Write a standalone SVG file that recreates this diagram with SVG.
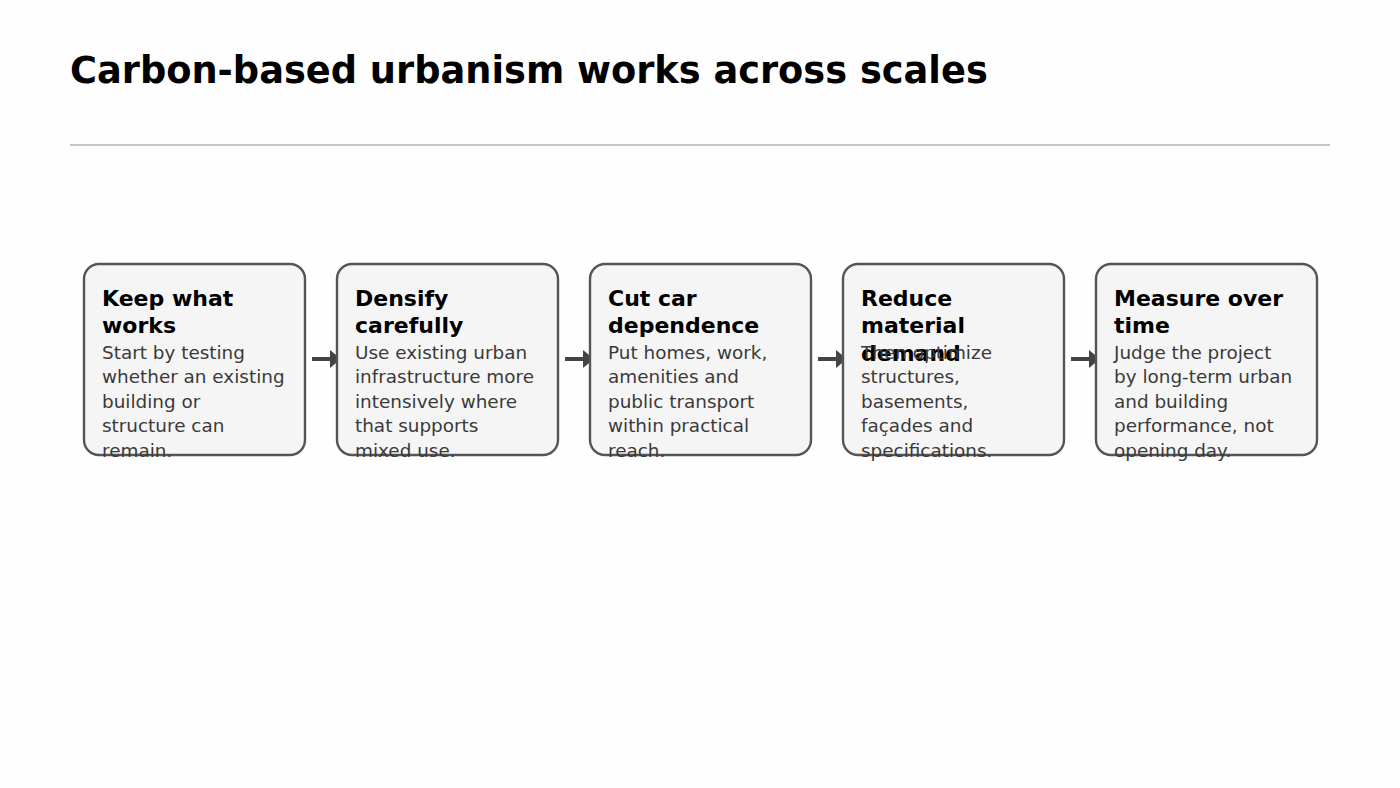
<svg xmlns="http://www.w3.org/2000/svg" width="1400" height="788" viewBox="0 0 1400 788">
<style>
.title{font-family:"DejaVu Sans",sans-serif;font-weight:bold;font-size:36.75px;fill:#000}
.box{fill:#f5f5f5;stroke:#555;stroke-width:2.4}
.nt{font-family:"DejaVu Sans",sans-serif;font-weight:bold;font-size:22px;fill:#000}
.nb{font-family:"DejaVu Sans",sans-serif;font-size:18.4px;fill:#3a3a3a}
.arr{stroke:#444;stroke-width:4;fill:none}
.head{fill:#444}
</style>
<rect width="1400" height="788" fill="#fefefe"/>
<text class="title" x="70" y="83">Carbon-based urbanism works across scales</text>
<line x1="70" y1="145" x2="1330" y2="145" stroke="#b3b3b3" stroke-width="1.5"/>
<g id="connectors">
<line class="arr" x1="312" y1="359" x2="332" y2="359"/><polygon class="head" points="330,350 341,359 330,368"/>
<line class="arr" x1="565" y1="359" x2="585" y2="359"/><polygon class="head" points="583,350 594,359 583,368"/>
<line class="arr" x1="818" y1="359" x2="838" y2="359"/><polygon class="head" points="836,350 847,359 836,368"/>
<line class="arr" x1="1071" y1="359" x2="1091" y2="359"/><polygon class="head" points="1089,350 1100,359 1089,368"/>
</g>
<g id="node1">
<rect class="box" x="84" y="264" width="221" height="191" rx="15"/>
<text class="nt"><tspan x="102" y="305.5">Keep what</tspan><tspan x="102" y="333">works</tspan></text>
<text class="nb"><tspan x="102" y="358.5">Start by testing</tspan><tspan x="102" y="383">whether an existing</tspan><tspan x="102" y="407.5">building or</tspan><tspan x="102" y="432">structure can</tspan><tspan x="102" y="456.5">remain.</tspan></text>
</g>
<g id="node2">
<rect class="box" x="337" y="264" width="221" height="191" rx="15"/>
<text class="nt"><tspan x="355" y="305.5">Densify</tspan><tspan x="355" y="333">carefully</tspan></text>
<text class="nb"><tspan x="355" y="358.5">Use existing urban</tspan><tspan x="355" y="383">infrastructure more</tspan><tspan x="355" y="407.5">intensively where</tspan><tspan x="355" y="432">that supports</tspan><tspan x="355" y="456.5">mixed use.</tspan></text>
</g>
<g id="node3">
<rect class="box" x="590" y="264" width="221" height="191" rx="15"/>
<text class="nt"><tspan x="608" y="305.5">Cut car</tspan><tspan x="608" y="333">dependence</tspan></text>
<text class="nb"><tspan x="608" y="358.5">Put homes, work,</tspan><tspan x="608" y="383">amenities and</tspan><tspan x="608" y="407.5">public transport</tspan><tspan x="608" y="432">within practical</tspan><tspan x="608" y="456.5">reach.</tspan></text>
</g>
<g id="node4">
<rect class="box" x="843" y="264" width="221" height="191" rx="15"/>
<text class="nt"><tspan x="861" y="305.5">Reduce</tspan><tspan x="861" y="333">material</tspan><tspan x="861" y="360.5">demand</tspan></text>
<text class="nb"><tspan x="861" y="358.5">Then optimize</tspan><tspan x="861" y="383">structures,</tspan><tspan x="861" y="407.5">basements,</tspan><tspan x="861" y="432">façades and</tspan><tspan x="861" y="456.5">specifications.</tspan></text>
</g>
<g id="node5">
<rect class="box" x="1096" y="264" width="221" height="191" rx="15"/>
<text class="nt"><tspan x="1114" y="305.5">Measure over</tspan><tspan x="1114" y="333">time</tspan></text>
<text class="nb"><tspan x="1114" y="358.5">Judge the project</tspan><tspan x="1114" y="383">by long-term urban</tspan><tspan x="1114" y="407.5">and building</tspan><tspan x="1114" y="432">performance, not</tspan><tspan x="1114" y="456.5">opening day.</tspan></text>
</g>
</svg>
